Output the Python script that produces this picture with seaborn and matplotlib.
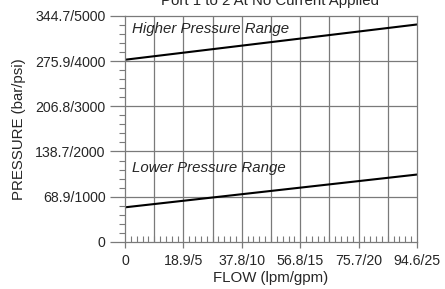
import numpy as np
import pandas as pd
import matplotlib
matplotlib.use('Agg')
import matplotlib.pyplot as plt
import seaborn as sns
from matplotlib.ticker import MultipleLocator, FixedLocator

# Data (flow in gpm, pressure in psi)
flow_gpm = [0, 25]
high_psi = [4030, 4810]
low_psi = [765, 1490]

x_ticks = [0, 5, 10, 15, 20, 25]
x_labels = ['0', '18.9/5', '37.8/10', '56.8/15', '75.7/20', '94.6/25']
y_ticks = [0, 1000, 2000, 3000, 4000, 5000]
y_labels = ['0', '68.9/1000', '138.7/2000', '206.8/3000', '275.9/4000', '344.7/5000']

df = pd.DataFrame({
    'flow': flow_gpm * 2,
    'pressure': high_psi + low_psi,
    'range': ['high'] * 2 + ['low'] * 2,
})

sns.set_style('white')
plt.rcParams['font.family'] = ['Liberation Sans', 'DejaVu Sans']
fs = 10.8
tfs = 10.2

fig = plt.figure(figsize=(4.45, 2.89), dpi=100)
ax = fig.add_axes([0.281, 0.163, 0.656, 0.782])

sns.lineplot(data=df, x='flow', y='pressure', units='range', estimator=None,
             color='black', linewidth=1.5, ax=ax, legend=False)

ax.set_xlim(0, 25)
ax.set_ylim(0, 5000)

# grid
for gx in np.arange(2.5, 25, 2.5):
    ax.axvline(gx, color='#7a7a7a', linewidth=0.9, zorder=0)
for gy in y_ticks[1:-1]:
    ax.axhline(gy, color='#7a7a7a', linewidth=0.9, zorder=0)

for s in ax.spines.values():
    s.set_color('#7a7a7a')
    s.set_linewidth(0.9)

ax.xaxis.set_major_locator(FixedLocator(x_ticks))
ax.set_xticklabels(x_labels)
ax.xaxis.set_minor_locator(MultipleLocator(0.5))
ax.tick_params(axis='x', which='major', direction='out', length=4, width=0.9,
               color='#7a7a7a', pad=5, labelsize=tfs, bottom=True)
ax.tick_params(axis='x', which='minor', direction='in', length=4,
               width=0.8, color='#7a7a7a', bottom=True)

ax.yaxis.set_major_locator(FixedLocator(y_ticks))
ax.set_yticklabels(y_labels)
ax.yaxis.set_minor_locator(MultipleLocator(200))
ax.tick_params(axis='y', which='major', direction='out', length=11,
               width=0.9, color='#7a7a7a', pad=3, labelsize=tfs, left=True)
ax.tick_params(axis='y', which='minor', direction='out', length=4.5,
               width=0.8, color='#7a7a7a', left=True)

ax.set_xlabel('FLOW (lpm/gpm)', fontsize=fs, labelpad=2)
ax.set_ylabel('PRESSURE (bar/psi)', fontsize=fs, labelpad=7)

ax.text(0.6, 4700, 'Higher Pressure Range', fontsize=fs, style='italic', va='center')
ax.text(0.6, 1640, 'Lower Pressure Range', fontsize=fs, style='italic', va='center')

fig.text(0.607, 0.983, 'Port 1 to 2 At No Current Applied', fontsize=fs,
         ha='center', va='baseline')

fig.savefig('out.png', dpi=100)
